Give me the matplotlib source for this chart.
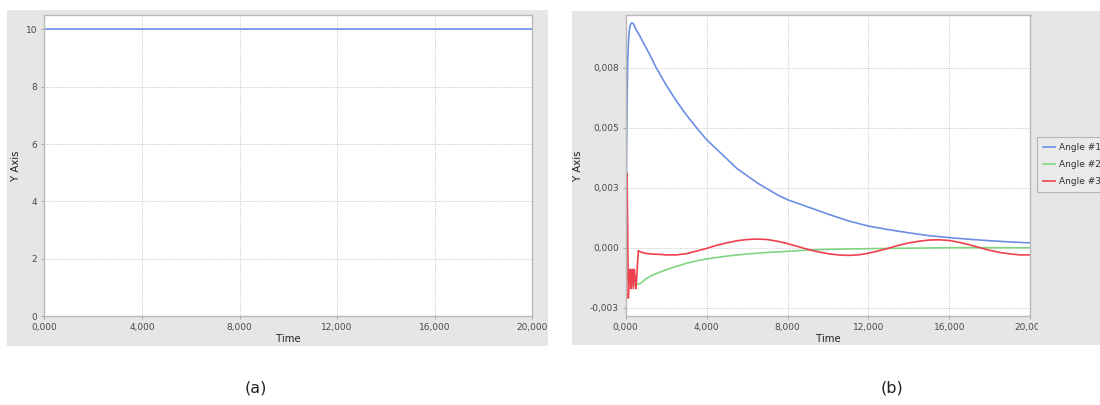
import matplotlib
matplotlib.use("Agg")
import matplotlib.pyplot as plt
from matplotlib.patches import Rectangle
from matplotlib.transforms import Bbox, TransformedBbox

# ---------------- data ----------------
x_ticks = [0, 4000, 8000, 12000, 16000, 20000]
x_tick_labels = ["0,000", "4,000", "8,000", "12,000", "16,000", "20,000"]

a_y_ticks = [0, 2, 4, 6, 8, 10]
a_y_tick_labels = ["0", "2", "4", "6", "8", "10"]
a_time = [0, 20000]
a_values = [10, 10]

b_y_ticks = [-0.0025, 0.0, 0.0025, 0.005, 0.0075]
b_y_tick_labels = ["-0,003", "0,000", "0,003", "0,005", "0,008"]

legend_labels = ["Angle #1", "Angle #2", "Angle #3"]

angle1_t = [0, 30, 60, 100, 150, 200, 250, 300, 350, 400, 500, 650, 800,
            1000, 1200, 1500, 2000, 2500, 3000, 3500, 4000, 4500, 5000, 5500,
            6000, 6500, 7000, 7500, 8000, 9000, 10000, 11000, 12000, 13000,
            14000, 15000, 16000, 17000, 18000, 19000, 20000]
angle1_v = [0.0, 0.0025, 0.0055, 0.0078, 0.0088, 0.0092, 0.00932, 0.00937,
            0.00935, 0.0093, 0.0091, 0.0089, 0.00866, 0.00834, 0.00803,
            0.00751, 0.00678, 0.00612, 0.00553, 0.0050, 0.0045, 0.0041,
            0.0037, 0.0033, 0.0030, 0.0027, 0.00245, 0.0022, 0.0020, 0.0017,
            0.0014, 0.00112, 0.0009, 0.00075, 0.00062, 0.0005, 0.00042,
            0.00035, 0.00029, 0.00024, 0.0002]

angle2_t = [0, 50, 100, 200, 350, 500, 750, 1000, 1200, 1500, 2000, 2500,
            3000, 3500, 4000, 5000, 6000, 7000, 8000, 9000, 10000, 12000,
            14000, 16000, 18000, 20000]
angle2_v = [0.0, -0.0009, -0.0013, -0.0015, -0.00155, -0.00155, -0.00148,
            -0.0013, -0.0012, -0.00108, -0.00092, -0.00078, -0.00065,
            -0.00055, -0.00047, -0.00035, -0.00026, -0.0002, -0.00015,
            -0.0001, -0.00007, -0.00004, -0.00002, 0.0, 0.0, 0.0]

angle3_t = [0, 40, 70, 100, 130, 170, 212, 262, 300, 328, 377, 427, 470, 510,
            625, 750, 900, 1200, 1700, 2000, 2500, 3000, 3500, 4000, 4500,
            5000, 5500, 6000, 6500, 7000, 7500, 8000, 8500, 9000, 9500,
            10000, 10500, 11000, 11500, 12000, 12500, 13000, 13500, 14000,
            14500, 15000, 15500, 16000, 16500, 17000, 17500, 18000, 18500,
            19000, 19500, 20000]
angle3_v = [0.0, 0.0022, 0.0031, 0.0005, -0.0021, -0.0014, -0.0009, -0.0017,
            -0.0012, -0.0009, -0.0017, -0.0009, -0.0013, -0.0017, -0.000125,
            -0.00018, -0.00022, -0.00026, -0.00028, -0.0003, -0.0003,
            -0.00025, -0.00014, -0.00003, 0.0001, 0.0002, 0.00029, 0.00034,
            0.00036, 0.00034, 0.00027, 0.00017, 0.00005, -0.00007, -0.00017,
            -0.00025, -0.0003, -0.00032, -0.0003, -0.00023, -0.00013,
            -0.00002, 0.0001, 0.0002, 0.00027, 0.00032, 0.00033, 0.0003,
            0.00022, 0.00012, 0.0, -0.00011, -0.0002, -0.00026, -0.0003,
            -0.0003]

# ---------------- style ----------------
W, H = 1100, 405
BG = "#e6e6e6"
FRAME = "#b8b8b8"
GRID = "#cfcfcf"
TICKC = "#4a4a4a"
BLUE = "#6b8fe4"
GREEN = "#80d680"
RED = "#f0404e"

plt.rcParams["font.family"] = ["DejaVu Sans"]

fig = plt.figure(figsize=(W / 100, H / 100), dpi=100)
fig.patch.set_facecolor("white")


def fx(px):
    return px / W


def fy(py):
    return 1 - py / H


def box(x0, y0, x1, y1):
    return [fx(x0), fy(y1), fx(x1) - fx(x0), fy(y0) - fy(y1)]


# grey panel backgrounds (behind the axes)
fig.patches.append(Rectangle((fx(7), fy(346)), fx(548) - fx(7), fy(10) - fy(346),
                             transform=fig.transFigure, facecolor=BG,
                             edgecolor="none", zorder=-5))
fig.patches.append(Rectangle((fx(572), fy(345)), fx(1100) - fx(572), fy(10.5) - fy(345),
                             transform=fig.transFigure, facecolor=BG,
                             edgecolor="none", zorder=-5))


def style_axes(ax):
    ax.set_facecolor("white")
    for s in ax.spines.values():
        s.set_color(FRAME)
        s.set_linewidth(1.0)
    ax.tick_params(axis="both", length=2, width=0.6, color="#9a9a9a",
                   labelsize=6.5, labelcolor=TICKC, pad=3)
    ax.grid(True, color=GRID, linestyle=(0, (1.2, 1.2)), linewidth=0.7)
    ax.set_axisbelow(True)


# ---------------- panel (a) ----------------
ax1 = fig.add_axes(box(44.3, 15, 532.3, 316))
ax1.set_zorder(2)
style_axes(ax1)
ax1.plot(a_time, a_values, color=BLUE, linewidth=1.2)
ax1.set_xlim(0, 20000)
ax1.set_ylim(0, 10.5)
ax1.set_xticks(x_ticks)
ax1.set_xticklabels(x_tick_labels)
ax1.set_yticks(a_y_ticks)
ax1.set_yticklabels(a_y_tick_labels)

# ---------------- panel (b) ----------------
ax2 = fig.add_axes(box(625.7, 15, 1030.3, 316))
ax2.set_zorder(2)
style_axes(ax2)
l1, = ax2.plot(angle1_t, angle1_v, color=BLUE, linewidth=1.2)
l2, = ax2.plot(angle2_t, angle2_v, color=GREEN, linewidth=1.2)
l3, = ax2.plot(angle3_t, angle3_v, color=RED, linewidth=1.2)
ax2.set_xlim(0, 20000)
ax2.set_ylim(-0.002846, 0.009696)
ax2.set_xticks(x_ticks)
ax2.set_xticklabels(x_tick_labels)
ax2.set_yticks(b_y_ticks)
ax2.set_yticklabels(b_y_tick_labels)

# clip the last x tick label of panel (b) like in the reference
clip = TransformedBbox(Bbox([[0, 0], [fx(1038), 1]]), fig.transFigure)
for lab in ax2.get_xticklabels():
    lab.set_clip_box(clip)
    lab.set_clip_on(True)

leg = fig.legend([l1, l2, l3], legend_labels, loc="upper left",
                 bbox_to_anchor=(fx(1037.3), fy(137.3)),
                 bbox_transform=fig.transFigure, borderaxespad=0,
                 fontsize=6.5, frameon=True, fancybox=False,
                 handlelength=1.35, handletextpad=0.45, borderpad=0.65,
                 labelspacing=0.9)
leg.set_zorder(3)
leg.get_frame().set_facecolor("#ececec")
leg.get_frame().set_edgecolor("#a8a8a8")
leg.get_frame().set_linewidth(0.8)
for t in leg.get_texts():
    t.set_color("#333333")

# axis labels
lab_kw = dict(fontsize=7.3, color="#222222", ha="center", va="center")
fig.text(fx(16), fy(165.5), "Y Axis", rotation=90, **lab_kw)
fig.text(fx(288.3), fy(339), "Time", **lab_kw)
fig.text(fx(578), fy(165.5), "Y Axis", rotation=90, **lab_kw)
fig.text(fx(828), fy(339), "Time", **lab_kw)

# captions
fig.text(fx(256), fy(388), "(a)", fontsize=11.5, color="#222222",
         ha="center", va="center")
fig.text(fx(892), fy(388), "(b)", fontsize=11.5, color="#222222",
         ha="center", va="center")

fig.savefig("out.png", dpi=100)
